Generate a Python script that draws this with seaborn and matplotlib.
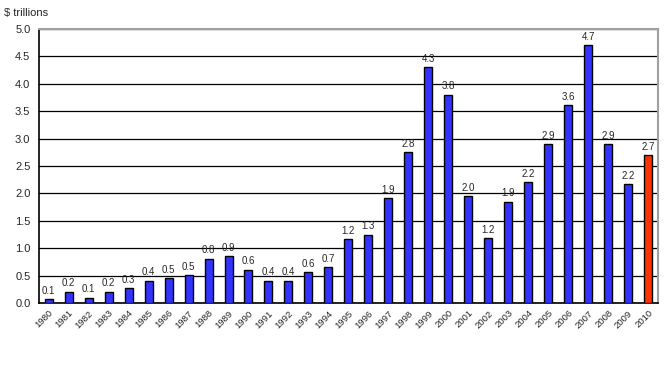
import numpy as np
import pandas as pd
import matplotlib
matplotlib.use("Agg")
import matplotlib.pyplot as plt
import seaborn as sns

# data
years = [str(y) for y in range(1980, 2011)]
values = [0.07, 0.21, 0.10, 0.21, 0.27, 0.41, 0.46, 0.51, 0.81, 0.85,
          0.61, 0.41, 0.41, 0.56, 0.65, 1.16, 1.25, 1.91, 2.75, 4.30,
          3.80, 1.95, 1.19, 1.85, 2.20, 2.90, 3.61, 4.70, 2.90, 2.17,
          2.70]
labels = ["0.1", "0.2", "0.1", "0.2", "0.3", "0.4", "0.5", "0.5", "0.8", "0.9",
          "0.6", "0.4", "0.4", "0.6", "0.7", "1.2", "1.3", "1.9", "2.8", "4.3",
          "3.8", "2.0", "1.2", "1.9", "2.2", "2.9", "3.6", "4.7", "2.9", "2.2",
          "2.7"]
colors = ["#3333FF"] * 30 + ["#FF3300"]

df = pd.DataFrame({"year": years, "value": values})

sns.set_style("white")
plt.rcParams["font.family"] = ["Liberation Sans", "DejaVu Sans"]

fig = plt.figure(figsize=(6.68, 3.79), dpi=100)
ax = fig.add_axes([0.058, 0.2005, 0.927, 0.723])

sns.barplot(data=df, x="year", y="value", hue="year", palette=colors,
            legend=False, width=0.4, edgecolor="black", linewidth=1,
            saturation=1, ax=ax, zorder=3)

# value labels above bars
for i, (v, lab) in enumerate(zip(values, labels)):
    ax.text(i, v + 0.06, lab, ha="center", va="bottom", fontsize=7)

ax.set_xlim(-0.5, len(years) - 0.5)
ax.set_ylim(0, 5.0)
ax.set_yticks(np.arange(0, 5.01, 0.5))
ax.set_yticklabels([f"{t:.1f}" for t in np.arange(0, 5.01, 0.5)], fontsize=8)
ax.yaxis.grid(True, color="black", linewidth=0.9, zorder=0)
ax.set_axisbelow(True)

# Excel-style ticks between categories
ax.set_xticks(np.arange(len(years)))
ax.set_xticklabels(years, rotation=45, ha="right", rotation_mode="anchor",
                   fontsize=6.8)
ax.tick_params(axis="x", which="major", length=0, pad=4)
ax.set_xticks(np.arange(-0.5, len(years)), minor=True)
ax.tick_params(axis="x", which="minor", length=4, width=1, color="black",
               direction="out")
ax.tick_params(axis="y", length=4, width=1, color="black", direction="out",
               pad=2)

for side in ["left", "bottom"]:
    ax.spines[side].set_color("black")
    ax.spines[side].set_linewidth(1.2)
for side in ["top", "right"]:
    ax.spines[side].set_color("#A0A0A0")
    ax.spines[side].set_linewidth(1.5)

ax.set_xlabel("")
ax.set_ylabel("")
fig.text(0.006, 0.965, "$ trillions", fontsize=8, ha="left", va="center")

fig.savefig("out.png", dpi=100)
